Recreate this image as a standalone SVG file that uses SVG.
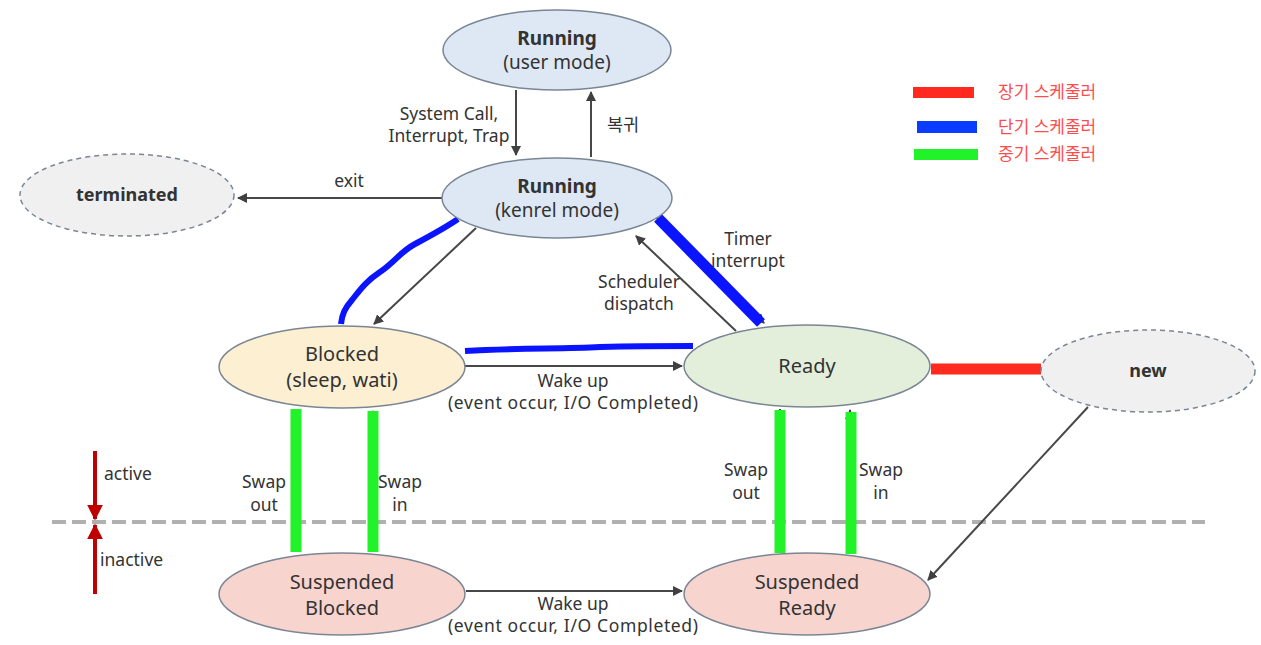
<svg xmlns="http://www.w3.org/2000/svg" width="1261" height="645" viewBox="0 0 1261 645">
<defs>
<marker id="ah" viewBox="0 0 10 10" refX="9" refY="5" markerWidth="5" markerHeight="5" orient="auto-start-reverse" markerUnits="strokeWidth">
<path d="M0,0 L10,5 L0,10 z" fill="#404040"/>
</marker>
<marker id="rh" viewBox="0 0 10 10" refX="9" refY="5" markerWidth="4" markerHeight="4" orient="auto" markerUnits="strokeWidth">
<path d="M0,0 L10,5 L0,10 z" fill="#c00000"/>
</marker>
</defs>
<style>
text{font-family:"Noto Sans","Noto Sans CJK KR",sans-serif;fill:#333;text-anchor:middle}
.n{font-size:20px}
.p{font-size:19px}
.b{font-size:19px;font-weight:bold}
.l{font-size:17.5px}
.lg{font-size:17px;fill:#ff4b4b;text-anchor:start}
.arr{stroke:#474747;stroke-width:2;fill:none;marker-end:url(#ah)}
.node{stroke:#7a8694;stroke-width:1.5}
.dash{stroke:#7a8694;stroke-width:1.5;stroke-dasharray:5,4;fill:#f0f0f0}
.blue{stroke:#0a14ff;fill:none;stroke-linecap:butt}
.green{stroke:#22f22a;stroke-width:11}
</style>
<rect width="1261" height="645" fill="#fff"/>

<g id="divider">
<line x1="52" y1="522" x2="1205" y2="522" stroke="#b0b0b0" stroke-width="4" stroke-dasharray="14,6"/>
<line x1="95" y1="451" x2="95" y2="519" stroke="#c00000" stroke-width="4" marker-end="url(#rh)"/>
<line x1="95" y1="594" x2="95" y2="525" stroke="#c00000" stroke-width="4" marker-end="url(#rh)"/>
<text x="104" y="480" class="l" style="text-anchor:start">active</text>
<text x="100" y="566" class="l" style="text-anchor:start">inactive</text>
</g>

<g id="connectors">
<line x1="516" y1="90" x2="516" y2="155" class="arr"/>
<line x1="591" y1="157" x2="591" y2="92" class="arr"/>
<line x1="442" y1="198" x2="238" y2="198" class="arr"/>
<line x1="476" y1="228" x2="374" y2="324" class="arr"/>
<line x1="736" y1="331" x2="636" y2="236" class="arr"/>
<line x1="655" y1="216" x2="764" y2="323" class="arr"/>
<line x1="465" y1="366" x2="682" y2="366" class="arr"/>
<line x1="1041" y1="369" x2="933" y2="369" class="arr"/>
<line x1="1088" y1="407" x2="928" y2="580" class="arr"/>
<line x1="466" y1="591" x2="682" y2="591" class="arr"/>
<line x1="296" y1="409" x2="296" y2="550" class="arr"/>
<line x1="373" y1="551" x2="373" y2="411" class="arr"/>
<line x1="780" y1="409" x2="780" y2="550" class="arr"/>
<line x1="850" y1="551" x2="850" y2="410" class="arr"/>

<path d="M458,219 C445,228 430,236 415,244 C400,252 395,262 380,272 C365,282 360,290 352,300 C345,308 342,314 341,324" class="blue" stroke-width="6"/>
<line x1="658" y1="218" x2="761" y2="323" class="blue" stroke-width="11"/>
<path d="M465,351 C520,348 560,349 600,347 C640,346 670,346 693,346" class="blue" stroke-width="6"/>
<line x1="931" y1="369" x2="1041" y2="369" stroke="#ff2a1f" stroke-width="11"/>
<line x1="296" y1="409" x2="296" y2="552" class="green"/>
<line x1="373" y1="411" x2="373" y2="552" class="green"/>
<line x1="780" y1="410" x2="780" y2="553" class="green"/>
<line x1="851" y1="412" x2="851" y2="554" class="green"/>

<text x="449" y="120" class="l">System Call,</text>
<text x="449" y="142" class="l">Interrupt, Trap</text>
<text x="623" y="131" class="l">복귀</text>
<text x="349" y="187" class="l">exit</text>
<text x="748" y="245" class="l">Timer</text>
<text x="748" y="267" class="l">interrupt</text>
<text x="639" y="288" class="l">Scheduler</text>
<text x="639" y="310" class="l">dispatch</text>
<text x="573" y="387" class="l">Wake up</text>
<text x="573" y="409" class="l" textLength="250">(event occur, I/O Completed)</text>
<text x="264" y="488" class="l">Swap</text>
<text x="264" y="511" class="l">out</text>
<text x="400" y="488" class="l">Swap</text>
<text x="400" y="511" class="l">in</text>
<text x="746" y="476" class="l">Swap</text>
<text x="746" y="499" class="l">out</text>
<text x="881" y="476" class="l">Swap</text>
<text x="881" y="499" class="l">in</text>
<text x="573" y="610" class="l">Wake up</text>
<text x="573" y="632" class="l" textLength="250">(event occur, I/O Completed)</text>
</g>

<g id="running-user">
<ellipse cx="557" cy="50" rx="114" ry="40" fill="#dde8f4" class="node"/>
<text x="557" y="45" class="b">Running</text>
<text x="557" y="69" class="p">(user mode)</text>
</g>
<g id="running-kernel">
<ellipse cx="557" cy="198" rx="115" ry="40" fill="#dde8f4" class="node"/>
<text x="557" y="193" class="b">Running</text>
<text x="557" y="217" class="p">(kenrel mode)</text>
</g>
<g id="terminated">
<ellipse cx="127" cy="195" rx="107" ry="41" class="dash"/>
<text x="127" y="201" class="b" style="font-size:18px">terminated</text>
</g>
<g id="new">
<ellipse cx="1148" cy="371" rx="107" ry="41" class="dash"/>
<text x="1148" y="377" class="b" style="font-size:18px">new</text>
</g>
<g id="blocked">
<ellipse cx="342" cy="367" rx="123" ry="41" fill="#fcefd2" class="node"/>
<text x="342" y="361" class="n">Blocked</text>
<text x="342" y="387" class="n">(sleep, wati)</text>
</g>
<g id="ready">
<ellipse cx="807" cy="366" rx="123" ry="41" fill="#e3efdb" class="node"/>
<text x="807" y="373" class="n">Ready</text>
</g>
<g id="suspended-blocked">
<ellipse cx="342" cy="594" rx="123" ry="41" fill="#f8d4cf" class="node"/>
<text x="342" y="589" class="n">Suspended</text>
<text x="342" y="615" class="n">Blocked</text>
</g>
<g id="suspended-ready">
<ellipse cx="807" cy="594" rx="123" ry="41" fill="#f8d4cf" class="node"/>
<text x="807" y="589" class="n">Suspended</text>
<text x="807" y="615" class="n">Ready</text>
</g>

<g id="legend">
<rect x="913" y="87" width="61" height="11" fill="#ff2a1f"/>
<rect x="917" y="121" width="60" height="12" fill="#0a3cff"/>
<rect x="914" y="149" width="64" height="11" fill="#22f22a"/>
<text x="998" y="98" class="lg">장기 스케줄러</text>
<text x="998" y="133" class="lg">단기 스케줄러</text>
<text x="998" y="160" class="lg">중기 스케줄러</text>
</g>
</svg>
